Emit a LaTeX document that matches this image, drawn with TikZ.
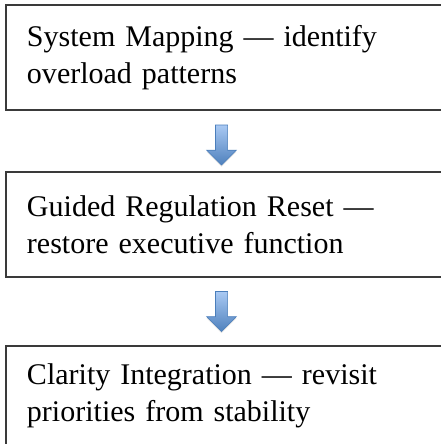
\documentclass[tikz,border=0pt]{standalone}
\usepackage{fontspec}
\setmainfont{Liberation Serif}
\usepackage{tikz}
\usetikzlibrary{arrows,shapes,shadows,positioning}
\usepackage{color}
\definecolor{boxline}{HTML}{3A3A3A}
\definecolor{arrowlight}{HTML}{A9C9F3}
\definecolor{arrowdark}{HTML}{4F81BD}
\definecolor{arrowedge}{HTML}{4A7EBB}
\begin{document}
\begin{tikzpicture}[x=1pt,y=-1pt,
                    stagebox/.style={draw=boxline,line width=1.8pt,outer sep=0pt,
                                     anchor=north west,inner xsep=21pt,inner ysep=0pt,
                                     text width=420pt,align=left,minimum height=105pt,
                                     font=\fontsize{30}{37}\selectfont},
                    downarrow/.style={single arrow,shape border rotate=270,
                                      draw=arrowedge,line width=0.6pt,
                                      top color=arrowlight,bottom color=arrowdark,
                                      inner sep=5.75pt,single arrow head extend=8.75pt,
                                      minimum height=40pt,minimum width=29pt,
                                      drop shadow={shadow xshift=0pt,shadow yshift=-1.5pt,opacity=0.25}}]
                    \useasboundingbox (0,0) rectangle (440,444);
                    \node [stagebox] (mapping) at (6,4.7) {System Mapping — identify\\overload patterns};
                    \node [stagebox] (reset) at (6,172) {Guided Regulation Reset —\\restore executive function};
                    \node [stagebox,minimum height=100pt] (clarity) at (6,346) {Clarity Integration — revisit\\priorities from stability};
                    \node [downarrow] (step1) at (221.5,142) {};
                    \node [downarrow] (step2) at (221.5,308.5) {};
                    % \draw [arrowedge] (mapping) -- (reset);
                    % \draw [arrowedge] (reset) -- (clarity);
                \end{tikzpicture}
\end{document}
